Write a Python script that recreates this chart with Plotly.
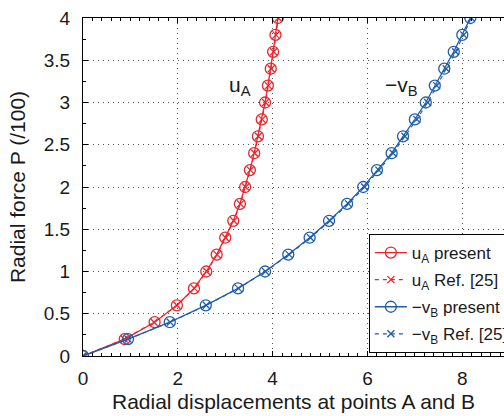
import plotly.graph_objects as go

# Radial force levels (P/100)
force = [0.0, 0.2, 0.4, 0.6, 0.8, 1.0, 1.2, 1.4, 1.6, 1.8, 2.0,
         2.2, 2.4, 2.6, 2.8, 3.0, 3.2, 3.4, 3.6, 3.8, 4.0]

# u_A (present)
uA_present = [0.0, 0.88, 1.51, 1.98, 2.34, 2.60, 2.82, 3.00, 3.17, 3.31, 3.42,
              3.52, 3.61, 3.69, 3.77, 3.84, 3.90, 3.96, 4.01, 4.06, 4.11]
# u_A (Ref. [25])
uA_ref = [0.0, 0.87, 1.50, 1.98, 2.35, 2.61, 2.83, 3.01, 3.18, 3.32, 3.43,
          3.53, 3.62, 3.70, 3.78, 3.85, 3.91, 3.97, 4.02, 4.07, 4.12]
# -v_B (present)
vB_present = [0.0, 0.95, 1.83, 2.59, 3.27, 3.84, 4.33, 4.78, 5.19, 5.57, 5.91,
              6.20, 6.51, 6.75, 7.00, 7.23, 7.42, 7.62, 7.82, 8.00, 8.17]
# -v_B (Ref. [25])
vB_ref = [0.0, 0.95, 1.84, 2.60, 3.28, 3.85, 4.35, 4.80, 5.21, 5.60, 5.94,
          6.24, 6.54, 6.79, 7.04, 7.27, 7.46, 7.66, 7.86, 8.03, 8.19]

x_ticks = [0, 2, 4, 6, 8]
y_ticks = [0, 0.5, 1, 1.5, 2, 2.5, 3, 3.5, 4]

RED = "#E8262E"
BLUE = "#1F5DAA"
FONT = "Liberation Sans, Arial, sans-serif"
TXT = "#1a1a1a"

fig = go.Figure()
fig.add_trace(go.Scatter(
    x=uA_present, y=force, mode="lines+markers", name="u<sub>A</sub> present",
    legendgroup="g1",
    line=dict(color=RED, width=1.3),
    marker=dict(symbol="circle-open", size=11, color=RED, line=dict(width=1.3, color=RED))))
fig.add_trace(go.Scatter(
    x=uA_ref, y=force, mode="lines+markers", name="u<sub>A</sub> Ref. [25]",
    legendgroup="g2",
    line=dict(color=RED, width=1.1, dash="4px,4px"),
    marker=dict(symbol="x-thin", size=7, color=RED, line=dict(width=1.3, color=RED))))
fig.add_trace(go.Scatter(
    x=vB_present, y=force, mode="lines+markers", name="\u2212v<sub>B</sub> present",
    legendgroup="g3",
    line=dict(color=BLUE, width=1.3),
    marker=dict(symbol="circle-open", size=11, color=BLUE, line=dict(width=1.3, color=BLUE))))
fig.add_trace(go.Scatter(
    x=vB_ref, y=force, mode="lines+markers", name="\u2212v<sub>B</sub> Ref. [25]",
    legendgroup="g4",
    line=dict(color=BLUE, width=1.1, dash="4px,4px"),
    marker=dict(symbol="x-thin", size=7, color=BLUE, line=dict(width=1.3, color=BLUE))))

fig.add_annotation(x=3.04, y=3.2, xref="x", yref="y", text="u<sub>A</sub>",
                   showarrow=False, xanchor="left", yanchor="middle",
                   font=dict(family=FONT, size=21, color=TXT))
fig.add_annotation(x=6.32, y=3.2, xref="x", yref="y", text="\u2212v<sub>B</sub>",
                   showarrow=False, xanchor="left", yanchor="middle",
                   font=dict(family=FONT, size=21, color=TXT))

fig.update_layout(
    width=504, height=416,
    margin=dict(l=83, r=0, t=18, b=60, autoexpand=False),
    plot_bgcolor="white", paper_bgcolor="white",
    font=dict(family=FONT, size=19, color=TXT),
    showlegend=True,
    legend=dict(x=0.679, y=0.361, xanchor="left", yanchor="top",
                bgcolor="white", bordercolor="black", borderwidth=1,
                font=dict(family=FONT, size=17, color=TXT),
                tracegroupgap=2, itemwidth=32),
)
fig.update_xaxes(
    range=[0, 8.88], tickvals=x_ticks, ticktext=[str(v) for v in x_ticks],
    showline=True, linecolor="black", linewidth=1, mirror="ticks",
    ticks="inside", ticklen=5, tickcolor="black",
    minor=dict(dtick=0.2, ticks="inside", ticklen=3, tickcolor="black", showgrid=False),
    showgrid=True, gridcolor="#555", griddash="1px,4px", gridwidth=1,
    zeroline=False, ticklabelstandoff=5,
    title=dict(text="Radial displacements at points A and B", font=dict(size=21), standoff=6),
)
fig.update_yaxes(
    range=[0, 4], tickvals=y_ticks, ticktext=[f"{v:g}" for v in y_ticks],
    showline=True, linecolor="black", linewidth=1, mirror=False,
    ticks="inside", ticklen=5, tickcolor="black",
    minor=dict(dtick=0.25, ticks="inside", ticklen=3, tickcolor="black", showgrid=False),
    showgrid=True, gridcolor="#555", griddash="1px,4px", gridwidth=1,
    zeroline=False, ticklabelstandoff=8,
    title=dict(text="Radial force P (/100)", font=dict(size=21), standoff=12),
)

fig.write_html("out.html",
               config={"displayModeBar": False},
               post_script="document.body.style.margin='0';document.body.style.padding='0';")
